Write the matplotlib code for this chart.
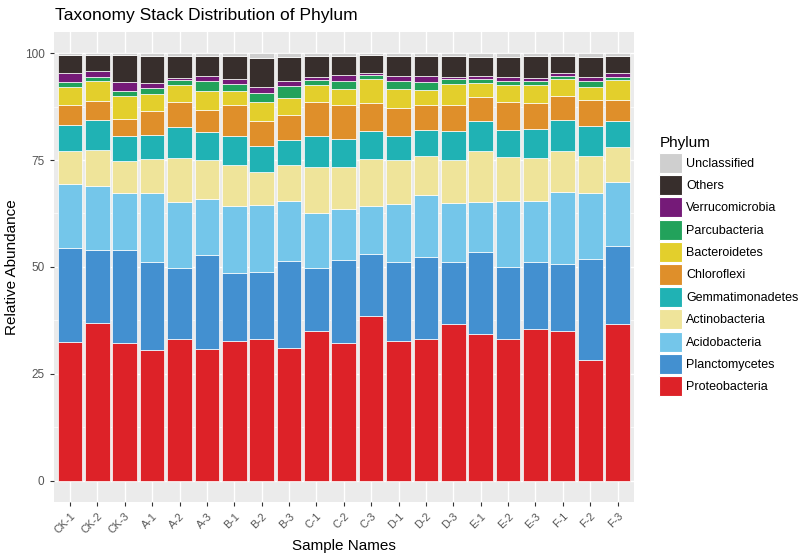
import matplotlib
matplotlib.use("Agg")
import matplotlib.pyplot as plt
from matplotlib.patches import Patch
import numpy as np

plt.rcParams['font.family'] = ['Liberation Sans', 'DejaVu Sans']

samples = ["CK-1", "CK-2", "CK-3", "A-1", "A-2", "A-3", "B-1", "B-2", "B-3",
           "C-1", "C-2", "C-3", "D-1", "D-2", "D-3", "E-1", "E-2", "E-3",
           "F-1", "F-2", "F-3"]

proteobacteria = [32.4, 36.8, 32.3, 30.5, 33.1, 30.7, 32.6, 33.1, 31.1, 35.0, 32.1,
                  38.4, 32.7, 33.2, 36.6, 34.2, 33.2, 35.4, 35.0, 28.2, 36.6]
planctomycetes = [22.1, 17.05, 21.55, 20.6, 16.7, 22.2, 16.0, 15.8, 20.2, 14.8, 19.6,
                  14.7, 18.4, 19.2, 14.5, 19.3, 16.8, 15.7, 15.8, 23.7, 18.4]
acidobacteria = [14.8, 15.05, 13.45, 16.1, 15.5, 13.1, 15.6, 15.5, 14.2, 12.9, 11.9,
                 11.1, 13.7, 14.5, 13.9, 11.6, 15.4, 14.3, 16.7, 15.4, 14.8]
actinobacteria = [7.9, 8.5, 7.4, 8.1, 10.2, 9.0, 9.7, 7.8, 8.3, 10.6, 9.7,
                  11.1, 10.15, 9.0, 10.1, 11.95, 10.3, 10.1, 9.55, 8.6, 8.3]
gemmatimonadetes = [6.1, 6.9, 5.9, 5.6, 7.2, 6.5, 6.7, 6.2, 6.0, 7.3, 6.6,
                    6.4, 5.65, 6.05, 6.6, 7.05, 6.4, 6.8, 7.25, 7.15, 6.0]
chloroflexi = [4.5, 4.6, 4.0, 5.5, 5.8, 5.3, 7.2, 5.7, 5.8, 7.9, 8.1,
               6.7, 6.6, 5.95, 6.3, 5.7, 6.4, 6.1, 5.8, 6.05, 5.0]
bacteroidetes = [4.4, 4.5, 5.3, 4.1, 4.0, 4.3, 3.3, 4.4, 3.9, 4.1, 3.6,
                 5.6, 4.4, 3.6, 4.9, 3.2, 4.1, 4.2, 3.9, 3.1, 4.55]
parcubacteria = [1.1, 0.95, 1.2, 1.4, 1.3, 2.3, 1.7, 2.3, 2.9, 1.2, 1.8,
                 1.0, 1.8, 1.7, 1.0, 0.96, 1.0, 1.0, 0.6, 1.4, 0.7]
verrucomicrobia = [2.1, 1.4, 2.1, 1.1, 0.4, 1.3, 1.2, 1.4, 1.2, 0.6, 1.6,
                   0.4, 1.2, 1.5, 0.5, 0.64, 0.8, 0.6, 0.8, 0.8, 1.05]
others = [4.25, 3.9, 6.45, 6.25, 5.2, 4.7, 5.25, 6.7, 5.5, 5.0, 4.4,
          4.25, 4.8, 4.7, 5.0, 4.5, 4.7, 5.2, 4.0, 4.7, 4.0]
unclassified = [0.35, 0.35, 0.35, 0.75, 0.6, 0.6, 0.75, 1.1, 0.9, 0.6, 0.6,
                0.35, 0.6, 0.6, 0.6, 0.9, 0.9, 0.6, 0.6, 0.9, 0.6]

phyla = ["Proteobacteria", "Planctomycetes", "Acidobacteria", "Actinobacteria",
         "Gemmatimonadetes", "Chloroflexi", "Bacteroidetes", "Parcubacteria",
         "Verrucomicrobia", "Others", "Unclassified"]
series = [proteobacteria, planctomycetes, acidobacteria, actinobacteria,
          gemmatimonadetes, chloroflexi, bacteroidetes, parcubacteria,
          verrucomicrobia, others, unclassified]
colors = ["#dd2228", "#4390d0", "#74c6ea", "#efe49a", "#20b2b4", "#df8f2a",
          "#e3cf2c", "#22a25b", "#751a78", "#372e2c", "#cfcfcf"]

fig = plt.figure(figsize=(8, 5.59), dpi=100)
ax = fig.add_axes([0.067, 0.102, 0.7255, 0.841])
ax.set_facecolor("#EBEBEB")

x = np.arange(len(samples))
bottom = np.zeros(len(samples))
for name, vals, col in zip(phyla, series, colors):
    v = np.array(vals)
    ax.bar(x, v, bottom=bottom, width=0.9, color=col, edgecolor="white",
           linewidth=0.5, zorder=3)
    bottom += v

ax.set_xlim(-0.6, len(samples) - 0.4)
ax.set_ylim(-5, 105)
ax.set_yticks([0, 25, 50, 75, 100])
ax.set_yticks([12.5, 37.5, 62.5, 87.5], minor=True)
ax.set_xticks(x)
ax.set_xticklabels(samples, rotation=45, ha="right", rotation_mode="anchor")
ax.grid(True, which="major", color="white", linewidth=1.0, zorder=0)
ax.grid(True, which="minor", axis="y", color="white", linewidth=0.5, zorder=0)
for s in ax.spines.values():
    s.set_visible(False)
ax.tick_params(axis="both", which="major", colors="#333333", length=3,
               labelcolor="#555555", labelsize=8.5)
ax.tick_params(axis="x", which="major", labelsize=7.8)
ax.tick_params(axis="y", which="minor", length=0)
ax.set_axisbelow(True)

ax.set_xlabel("Sample Names", fontsize=11, color="black")
ax.xaxis.set_label_coords(0.5, -0.079)
ax.set_ylabel("Relative Abundance", fontsize=11, color="black")
ax.yaxis.set_label_coords(-0.06, 0.5)
fig.text(0.069, 0.972, "Taxonomy Stack Distribution of Phylum", fontsize=12.5,
         ha="left", va="center")

handles = [Patch(facecolor=c, edgecolor="white", linewidth=0.8, label=n)
           for n, c in zip(phyla[::-1], colors[::-1])]
leg = fig.legend(handles=handles, title="Phylum", loc="upper left",
                 bbox_to_anchor=(0.818, 0.765), frameon=False, fontsize=9,
                 title_fontsize=11, handlelength=1.8, handleheight=2.1,
                 labelspacing=0.18, handletextpad=0.35, borderaxespad=0)
leg._legend_box.align = "left"

fig.savefig("out.png", dpi=100)
